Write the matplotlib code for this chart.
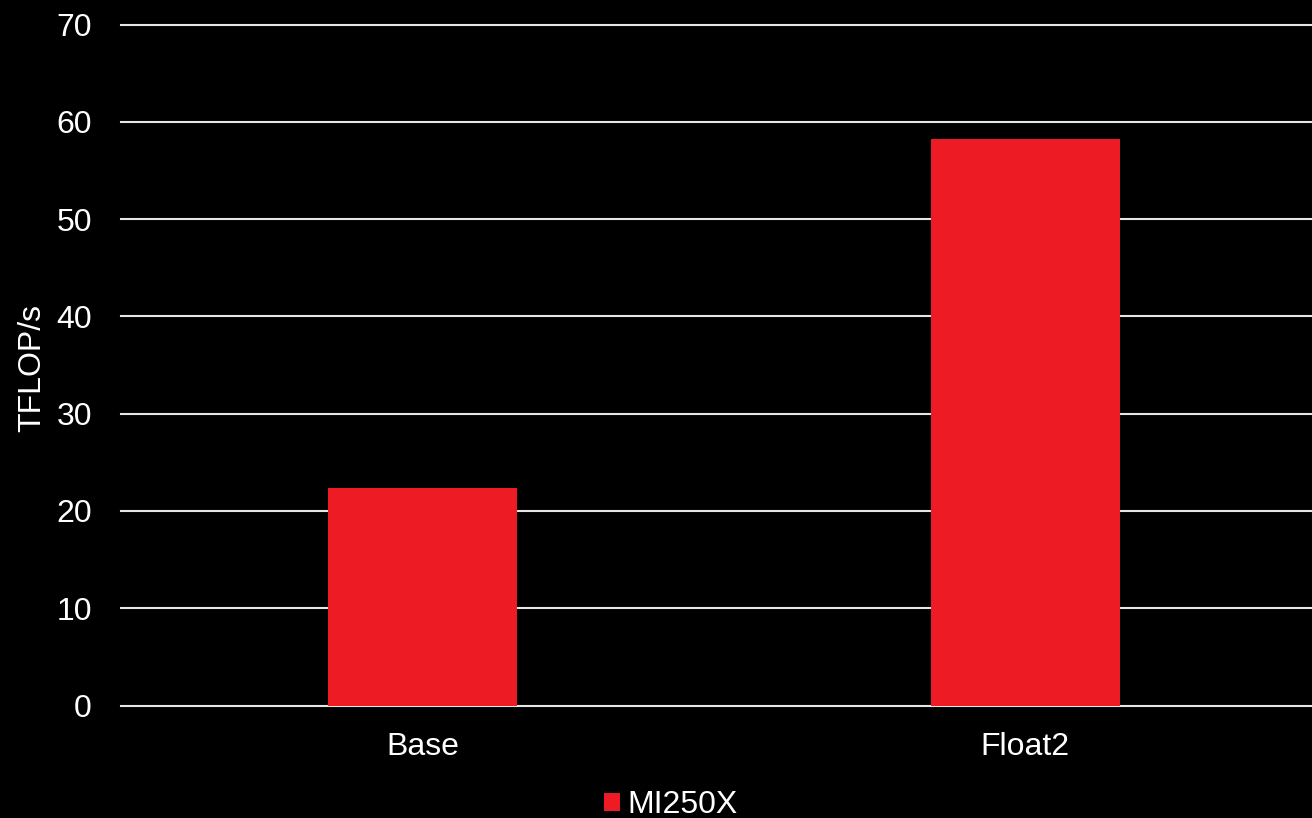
import matplotlib
matplotlib.use("Agg")
import matplotlib.pyplot as plt
import numpy as np

categories = ["Base", "Float2"]
series_name = "MI250X"
values = [22.4, 58.2]
yticks = [0, 10, 20, 30, 40, 50, 60, 70]

plt.rcParams['font.family'] = ['Liberation Sans', 'DejaVu Sans']
FS = 23

fig = plt.figure(figsize=(13.12, 8.18), dpi=100, facecolor='black')
ax = fig.add_axes([121/1312, 1-705.5/818, 1-121/1312, (705.5-24.5)/818])
ax.set_facecolor('black')

x = np.arange(len(categories))
ax.set_axisbelow(True)
ax.yaxis.grid(True, color='#e6e6e6', linewidth=1.5)
bars = ax.bar(x, values, width=0.314, color='#ED1C24', label=series_name, zorder=3)

ax.set_xlim(-0.5005, 1.476)
ax.set_ylim(0, 70)
ax.set_yticks(yticks)
ax.set_xticks(x)
ax.set_xticklabels(categories)
for line in ax.get_ygridlines():
    line.set_clip_on(False)
for s in ax.spines.values():
    s.set_visible(False)
ax.tick_params(axis='y', length=0, pad=21, labelsize=FS, labelcolor='white')
ax.tick_params(axis='x', length=0, pad=19, labelsize=FS, labelcolor='white')

fig.text(32/1312, 1-368/818, "TFLOP/s", rotation=90, ha='center', va='center',
         color='white', fontsize=FS)

leg = fig.legend(handles=[bars], labels=[series_name], loc='center',
                 bbox_to_anchor=(671/1312, 1-805/818), frameon=False,
                 handlelength=0.5, handleheight=0.5, handletextpad=0.25,
                 fontsize=FS, labelcolor='white')

fig.savefig("out.png", dpi=100, facecolor='black')
